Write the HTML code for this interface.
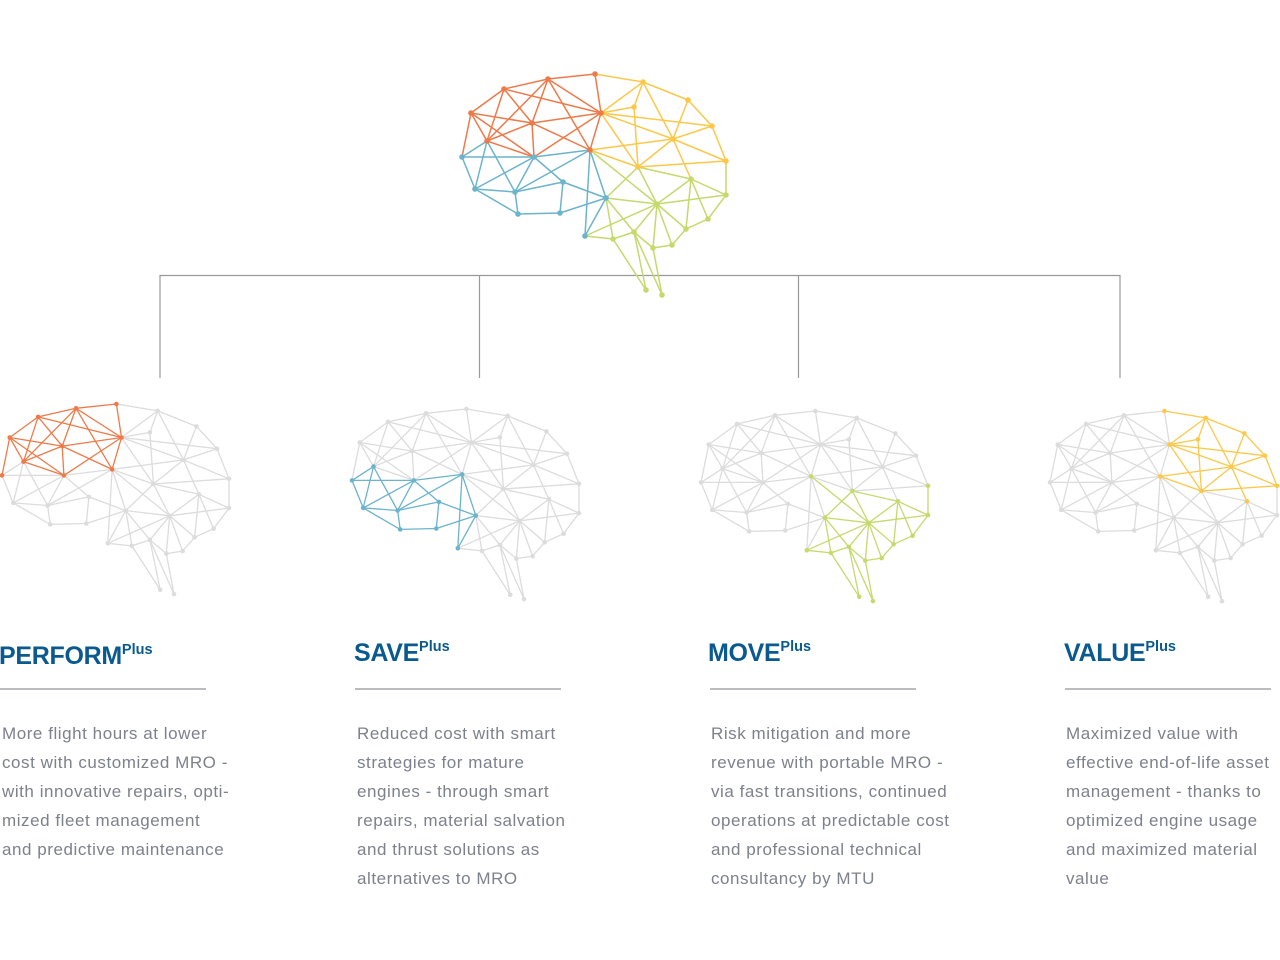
<!DOCTYPE html>
<html><head><meta charset="utf-8"><style>
html,body{margin:0;padding:0;background:#fff;width:1280px;height:960px;overflow:hidden}
svg{position:absolute;left:0;top:0}
.t{position:absolute;font-family:"Liberation Sans",sans-serif;font-weight:bold;color:#0b5a8f;font-size:25px;letter-spacing:-0.3px}
.t sup{font-size:14.5px;vertical-align:10px;letter-spacing:0}
.u{position:absolute;height:2px;background:#bbbcc0;width:206px;top:688px}
.p{position:absolute;font-family:"Liberation Sans",sans-serif;font-size:17px;line-height:29px;color:#7d818c;top:719px;white-space:nowrap;letter-spacing:0.55px}
</style></head><body>
<svg id="s" width="1280" height="960" xmlns="http://www.w3.org/2000/svg">
<g stroke="#999" stroke-width="1.2" fill="none">
<path d="M160 378V275.5H1120V378M479.5 275V378M798.5 275V378"/>
</g>
</svg>
<div class="t" style="left:-1px;top:642px">PERFORM<sup>Plus</sup></div>
<div class="t" style="left:354px;top:639px">SAVE<sup>Plus</sup></div>
<div class="t" style="left:708px;top:639px">MOVE<sup>Plus</sup></div>
<div class="t" style="left:1064px;top:639px">VALUE<sup>Plus</sup></div>
<div class="u" style="left:0"></div><div class="u" style="left:355px"></div><div class="u" style="left:710px"></div><div class="u" style="left:1065px"></div>
<div class="p" style="left:2px">More flight hours at lower<br>cost with customized MRO -<br>with innovative repairs, opti-<br>mized fleet management<br>and predictive maintenance</div>
<div class="p" style="left:357px">Reduced cost with smart<br>strategies for mature<br>engines - through smart<br>repairs, material salvation<br>and thrust solutions as<br>alternatives to MRO</div>
<div class="p" style="left:711px">Risk mitigation and more<br>revenue with portable MRO -<br>via fast transitions, continued<br>operations at predictable cost<br>and professional technical<br>consultancy by MTU</div>
<div class="p" style="left:1066px">Maximized value with<br>effective end-of-life asset<br>management - thanks to<br>optimized engine usage<br>and maximized material<br>value</div>
<script>
var N={O1:[595,74],O2:[548,79],O3:[504,89],O4:[471,113],O5:[532,123],O6:[601,113],O7:[487,141],O8:[590,150],
B1:[462,157],B2:[534,157],B3:[475,189],B4:[515,192],B5:[563,182],B6:[518,214],B7:[560,213],B8:[606,198],B9:[585,236],
Y1:[643,82],Y2:[688,100],Y3:[634,107],Y4:[712,126],Y5:[673,139],Y6:[726,161],Y7:[638,167],
G1:[691,179],G2:[726,195],G3:[657,204],G4:[708,219],G5:[686,229],G6:[613,239],G7:[634,232],G8:[653,248],G9:[672,245],G10:[646,290],G11:[662,295]};
var E={o:"O1-O2 O1-O6 O2-O3 O2-O6 O2-O5 O2-O7 O2-O8 O3-O4 O3-O5 O3-O6 O3-O7 O4-O5 O4-O7 O4-B1 O4-B2 O5-O6 O5-O8 O5-B2 O5-O7 O6-O8 O6-B2 O7-B2",
b:"B1-B2 B1-O7 B1-B3 O7-B3 O7-B4 B2-B3 B2-B4 B2-B5 B2-O8 B3-B4 B3-B6 B4-B5 B4-O8 B5-B7 B5-B8 B4-B6 B6-B7 B7-B8 B8-O8 B9-O8 B9-B8",
y:"O1-Y1 O6-Y1 O6-Y3 O6-Y4 O6-Y5 O6-Y7 Y1-Y2 Y2-Y4 Y1-Y3 Y1-Y5 Y3-Y7 Y2-Y5 Y4-Y5 Y4-Y6 Y5-Y6 Y5-Y7 Y5-G1 Y6-Y7 Y7-O8 O8-Y5",
g:"O8-G3 Y7-B8 Y7-G3 Y7-G1 G1-G2 Y6-G2 G1-G3 G1-G4 G1-G5 G2-G3 G2-G4 G3-B8 G3-B9 G3-G5 G3-G7 G3-G8 G3-G9 B8-G6 B8-G7 B9-G6 G6-G7 G7-G8 G8-G9 G9-G5 G5-G4 G7-G10 G7-G11 G6-G10 G8-G11"};
var C={o:"#ee7a4a",b:"#6cb3cc",y:"#fbc84a",g:"#c5d96d"},GR="#dcdcdc";
var s="";
function brain(x0,y0,k,hl){
 var P=function(n){return [x0+(N[n][0]-462)*k,y0+(N[n][1]-74)*k]};
 var ncol={};
 var order=["o","b","y","g"].filter(function(g){return hl==null||g!=hl});
 if(hl) order.push(hl);
 order.forEach(function(g){
  var col=(hl==null||g==hl)?C[g]:GR;
  E[g].split(" ").forEach(function(e){var a=e.split("-"),p=P(a[0]),q=P(a[1]);
   s+='<line x1="'+p[0].toFixed(1)+'" y1="'+p[1].toFixed(1)+'" x2="'+q[0].toFixed(1)+'" y2="'+q[1].toFixed(1)+'" stroke="'+col+'" stroke-width="'+(k<1?1.3:1.5)+'"/>';
   if(col!=GR){ncol[a[0]]=col;ncol[a[1]]=col;} else {if(!ncol[a[0]])ncol[a[0]]=GR;if(!ncol[a[1]])ncol[a[1]]=GR;}
  });
 });
 for(var n in N){var p=P(n);var c=ncol[n]||GR;
  if(hl==null){c=C[n[0]=="O"?"o":n[0]=="B"?"b":n[0]=="Y"?"y":"g"];}
  s+='<circle cx="'+p[0].toFixed(1)+'" cy="'+p[1].toFixed(1)+'" r="'+(k<1?2.3:2.8)+'" fill="'+c+'"/>';}
}
brain(462,74,1,null);
brain(2,404,0.86,"o");
brain(352,409,0.86,"b");
brain(701,411,0.86,"g");
brain(1050,411,0.86,"y");
document.getElementById("s").insertAdjacentHTML("beforeend",s);
</script>
</body></html>
